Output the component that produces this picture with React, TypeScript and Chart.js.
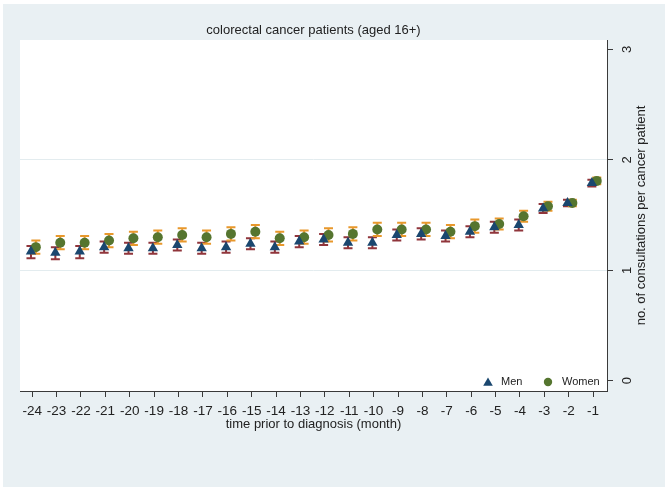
import { useEffect, useRef } from "react";
import { Chart, registerables } from "chart.js";

Chart.register(...registerables);

// ---------- data ----------
const months = [-24, -23, -22, -21, -20, -19, -18, -17, -16, -15, -14, -13, -12, -11, -10, -9, -8, -7, -6, -5, -4, -3, -2, -1];
const xTickValues = months;
const yTickValues = [0, 1, 2, 3];
const seriesNames = ["Men", "Women"];

const menMean = [1.17, 1.16, 1.17, 1.21, 1.20, 1.20, 1.23, 1.20, 1.21, 1.24, 1.21, 1.26, 1.28, 1.25, 1.25, 1.32, 1.33, 1.31, 1.35, 1.39, 1.41, 1.56, 1.61, 1.79];
const menLow = [1.11, 1.10, 1.11, 1.16, 1.15, 1.15, 1.18, 1.15, 1.16, 1.19, 1.16, 1.21, 1.23, 1.20, 1.20, 1.27, 1.28, 1.26, 1.30, 1.34, 1.36, 1.52, 1.58, 1.76];
const menHigh = [1.22, 1.21, 1.22, 1.26, 1.25, 1.25, 1.28, 1.25, 1.26, 1.29, 1.26, 1.31, 1.33, 1.30, 1.30, 1.37, 1.38, 1.36, 1.40, 1.44, 1.46, 1.60, 1.64, 1.82];

const womenMean = [1.21, 1.25, 1.25, 1.27, 1.29, 1.30, 1.32, 1.30, 1.33, 1.35, 1.29, 1.30, 1.32, 1.33, 1.37, 1.37, 1.37, 1.35, 1.40, 1.42, 1.49, 1.58, 1.61, 1.81];
const womenLow = [1.15, 1.19, 1.19, 1.21, 1.23, 1.24, 1.26, 1.24, 1.27, 1.29, 1.23, 1.24, 1.26, 1.27, 1.31, 1.31, 1.31, 1.29, 1.34, 1.37, 1.44, 1.54, 1.58, 1.78];
const womenHigh = [1.27, 1.31, 1.31, 1.33, 1.35, 1.36, 1.38, 1.36, 1.39, 1.41, 1.35, 1.36, 1.38, 1.39, 1.43, 1.43, 1.43, 1.41, 1.46, 1.47, 1.54, 1.62, 1.64, 1.84];

const TITLE = "colorectal cancer patients (aged 16+)";
const X_TITLE = "time prior to diagnosis (month)";
const Y_TITLE = "no. of consultations per cancer patient";

// ---------- style ----------
const FONT = "'Liberation Sans', Arial, sans-serif";
const BG = "#e9f0f3";
const GRID = "#e3ecef";
const AXIS = "#3a3a3a";
const TEXT = "#222";
const MEN_COLOR = "#1a476f";
const MEN_BAR = "#90353b";
const WOMEN_COLOR = "#55752f";
const WOMEN_BAR = "#e8982c";
const MEN_DODGE = -0.05;
const WOMEN_DODGE = 0.15;

const errorBars = [
  { x: months.map((m) => m + MEN_DODGE), low: menLow, high: menHigh, color: MEN_BAR },
  { x: months.map((m) => m + WOMEN_DODGE), low: womenLow, high: womenHigh, color: WOMEN_BAR },
];

const decorPlugin = {
  id: "decor",
  beforeDraw(chart: any) {
    const { ctx, width, height, chartArea: a } = chart;
    ctx.save();
    ctx.fillStyle = "#ffffff";
    ctx.fillRect(0, 0, width, height);
    ctx.fillStyle = BG;
    ctx.fillRect(3, 4, 662, 483);
    ctx.fillStyle = "#ffffff";
    ctx.fillRect(a.left, a.top, a.right - a.left, a.bottom - a.top);
    ctx.restore();
  },
  beforeDatasetsDraw(chart: any) {
    const { ctx, scales } = chart;
    const xs = scales.x;
    const ys = scales.y;
    ctx.save();
    ctx.lineWidth = 2;
    for (const eb of errorBars) {
      ctx.strokeStyle = eb.color;
      for (let i = 0; i < eb.x.length; i++) {
        const px = xs.getPixelForValue(eb.x[i]);
        const pLow = ys.getPixelForValue(eb.low[i]);
        const pHigh = ys.getPixelForValue(eb.high[i]);
        ctx.beginPath();
        ctx.moveTo(px, pLow);
        ctx.lineTo(px, pHigh);
        ctx.moveTo(px - 4.5, pLow);
        ctx.lineTo(px + 4.5, pLow);
        ctx.moveTo(px - 4.5, pHigh);
        ctx.lineTo(px + 4.5, pHigh);
        ctx.stroke();
      }
    }
    ctx.restore();
  },
  afterDraw(chart: any) {
    const { ctx, chartArea: a, scales } = chart;
    const ys = scales.y;
    ctx.save();
    ctx.fillStyle = TEXT;
    // title
    ctx.font = `13px ${FONT}`;
    ctx.textAlign = "center";
    ctx.textBaseline = "middle";
    ctx.fillText(TITLE, (a.left + a.right) / 2, 30);
    // x title
    ctx.fillText(X_TITLE, (a.left + a.right) / 2, a.bottom + 33);
    // y tick labels (rotated)
    for (const v of yTickValues) {
      const py = ys.getPixelForValue(v);
      ctx.save();
      ctx.translate(a.right + 20, py);
      ctx.rotate(-Math.PI / 2);
      ctx.fillText(String(v), 0, 0);
      ctx.restore();
    }
    // y title
    ctx.save();
    ctx.translate(a.right + 34, (a.top + a.bottom) / 2);
    ctx.rotate(-Math.PI / 2);
    ctx.fillText(Y_TITLE, 0, 0);
    ctx.restore();
    // legend
    const ly = a.bottom - 9;
    ctx.font = `11px ${FONT}`;
    ctx.textAlign = "left";
    ctx.fillStyle = MEN_COLOR;
    const tx = a.right - 119;
    ctx.beginPath();
    ctx.moveTo(tx, ly - 4.5);
    ctx.lineTo(tx + 4.8, ly + 3.8);
    ctx.lineTo(tx - 4.8, ly + 3.8);
    ctx.closePath();
    ctx.fill();
    ctx.fillStyle = TEXT;
    ctx.fillText(seriesNames[0], tx + 13, ly);
    const cx = a.right - 59;
    ctx.fillStyle = WOMEN_COLOR;
    ctx.beginPath();
    ctx.arc(cx, ly, 4.2, 0, Math.PI * 2);
    ctx.fill();
    ctx.fillStyle = TEXT;
    ctx.fillText(seriesNames[1], cx + 14, ly);
    ctx.restore();
  },
};

export default function App() {
  const canvasRef = useRef<HTMLCanvasElement | null>(null);

  useEffect(() => {
    const canvas = canvasRef.current;
    if (!canvas) return;
    const chart = new Chart(canvas, {
      type: "scatter",
      data: {
        datasets: [
          {
            label: seriesNames[0],
            data: months.map((m, i) => ({ x: m + MEN_DODGE, y: menMean[i] })),
            pointStyle: "triangle",
            pointRadius: 6,
            backgroundColor: MEN_COLOR,
            borderColor: MEN_COLOR,
            borderWidth: 0,
          },
          {
            label: seriesNames[1],
            data: months.map((m, i) => ({ x: m + WOMEN_DODGE, y: womenMean[i] })),
            pointStyle: "circle",
            pointRadius: 5,
            backgroundColor: WOMEN_COLOR,
            borderColor: WOMEN_COLOR,
            borderWidth: 0,
          },
        ],
      },
      options: {
        responsive: false,
        animation: false,
        layout: { padding: { left: 20, top: 40, right: 0, bottom: 0 } },
        plugins: {
          legend: { display: false },
          tooltip: { enabled: false },
          title: { display: false },
        },
        scales: {
          x: {
            type: "linear",
            position: "bottom",
            min: -24.5,
            max: -0.43,
            afterBuildTicks: (s: any) => {
              s.ticks = xTickValues.map((v) => ({ value: v }));
            },
            afterFit: (s: any) => {
              s.height = 99;
            },
            grid: {
              drawOnChartArea: false,
              drawTicks: true,
              tickLength: 6,
              tickColor: AXIS,
              color: AXIS,
            },
            border: { display: true, color: AXIS, width: 1 },
            ticks: {
              autoSkip: false,
              maxRotation: 0,
              minRotation: 0,
              padding: 6,
              color: TEXT,
              font: { family: FONT, size: 13.5 },
              callback: (v: any) => String(v),
            },
          },
          y: {
            type: "linear",
            position: "right",
            min: -0.093,
            max: 3.086,
            afterBuildTicks: (s: any) => {
              s.ticks = yTickValues.map((v) => ({ value: v }));
            },
            afterFit: (s: any) => {
              s.width = 64;
            },
            grid: {
              drawTicks: true,
              tickLength: 6,
              tickColor: AXIS,
              lineWidth: 1,
              color: (c: any) =>
                c.tick && (c.tick.value === 1 || c.tick.value === 2) ? GRID : "rgba(0,0,0,0)",
            },
            border: { display: true, color: AXIS, width: 1 },
            ticks: { display: false },
          },
        },
      },
      plugins: [decorPlugin],
    });
    return () => chart.destroy();
  }, []);

  return (
    <div style={{ position: "absolute", left: 0, top: 0, width: 671, height: 490 }}>
      <canvas ref={canvasRef} width={671} height={490} style={{ display: "block" }} />
    </div>
  );
}
